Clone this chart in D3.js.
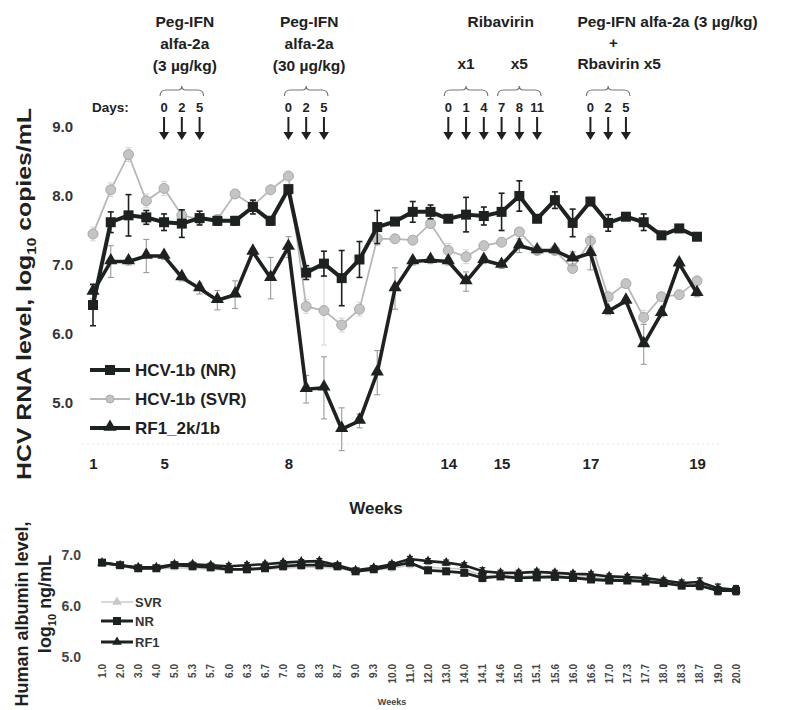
<!DOCTYPE html>
<html>
<head>
<meta charset="utf-8">
<script src="https://cdn.jsdelivr.net/npm/d3@7"></script>
<style>
  html, body { margin: 0; padding: 0; background: #fff; }
  svg { display: block; font-family: "Liberation Sans", Arial, sans-serif; }
</style>
</head>
<body>
<svg id="chart" width="788" height="710"></svg>
<script>
// Sampling weeks (shared by both panels; the RNA panel stops at week 19)
const weeks = ["1.0","2.0","3.0","4.0","5.0","5.3","5.7","6.0","6.3","6.7","7.0","8.0","8.3","8.7","9.0","9.3","10.0","11.0","12.0","13.0","14.0","14.1","14.6","15.0","15.1","15.6","16.0","16.6","17.0","17.3","17.7","18.0","18.3","18.7","19.0","20.0"];
const rnaWeeks = weeks.slice(0, 35);
const rnaTickWeeks = ["1.0","5.0","8.0","14.0","15.0","17.0","19.0"];
const rnaYTicks = [5, 6, 7, 8, 9];

// HCV RNA, log10 copies/mL (mean and error)
const rnaNR  = [6.42,7.62,7.72,7.69,7.62,7.60,7.68,7.64,7.64,7.84,7.64,8.10,6.89,7.02,6.81,7.08,7.55,7.63,7.77,7.77,7.67,7.73,7.71,7.77,8.00,7.67,7.94,7.61,7.92,7.61,7.70,7.62,7.43,7.53,7.41];
const rnaNRerr = [0.30,0.15,0.30,0.10,0.12,0.20,0.10,0.06,0.06,0.10,0.06,0.00,0.10,0.18,0.40,0.26,0.24,0.05,0.15,0.10,0.05,0.25,0.13,0.27,0.22,0.05,0.12,0.20,0.05,0.12,0.05,0.12,0.05,0.05,0.05];
const rnaSVR = [7.45,8.09,8.60,7.93,8.11,7.72,7.66,7.66,8.03,7.86,8.09,8.29,6.40,6.34,6.13,6.36,7.38,7.38,7.36,7.60,7.21,7.12,7.28,7.33,7.48,7.21,7.21,6.95,7.35,6.54,6.73,6.24,6.54,6.57,6.77];
const rnaSVRerr = [0.10,0.10,0.10,0.10,0.10,0.05,0.05,0.05,0.05,0.05,0.05,0.05,0.10,0.50,0.10,0.10,0.10,0.05,0.05,0.05,0.10,0.10,0.05,0.05,0.05,0.05,0.05,0.05,0.10,0.05,0.05,0.10,0.05,0.05,0.05];
const rnaRF1 = [6.61,7.05,7.05,7.13,7.13,6.82,6.66,6.49,6.57,7.19,6.81,7.26,5.20,5.22,4.62,4.74,5.44,6.66,7.05,7.07,7.05,6.76,7.07,7.00,7.28,7.21,7.21,7.09,7.17,6.33,6.48,5.85,6.30,7.02,6.59];
const rnaRF1err = [0.10,0.23,0.05,0.24,0.05,0.05,0.08,0.14,0.20,0.05,0.30,0.15,0.20,0.45,0.31,0.10,0.32,0.30,0.05,0.05,0.05,0.14,0.05,0.05,0.10,0.05,0.05,0.10,0.24,0.05,0.05,0.29,0.05,0.05,0.05];

// Human albumin, log10 ng/mL
const albYTicks = [5, 6, 7];
const albSVR = [6.82,6.78,6.72,6.72,6.75,6.74,6.72,6.70,6.70,6.72,6.74,6.76,6.76,6.74,6.68,6.70,6.74,6.80,6.76,6.74,6.72,6.60,6.60,6.58,6.60,6.60,6.58,6.56,6.54,6.54,6.52,6.48,6.44,6.42,6.34,6.30];
const albNR  = [6.85,6.80,6.74,6.74,6.80,6.78,6.76,6.72,6.72,6.74,6.78,6.80,6.80,6.78,6.68,6.72,6.78,6.85,6.70,6.68,6.65,6.55,6.58,6.55,6.56,6.57,6.55,6.52,6.50,6.50,6.48,6.45,6.40,6.40,6.30,6.30];
const albRF1 = [6.85,6.80,6.76,6.76,6.82,6.82,6.80,6.78,6.80,6.82,6.85,6.87,6.88,6.80,6.70,6.75,6.82,6.92,6.88,6.85,6.80,6.68,6.65,6.65,6.67,6.65,6.63,6.62,6.58,6.57,6.55,6.50,6.45,6.47,6.35,6.32];
const albErr = [0.03,0.04,0.03,0.03,0.04,0.04,0.04,0.05,0.05,0.04,0.04,0.04,0.05,0.04,0.04,0.04,0.05,0.05,0.05,0.05,0.05,0.07,0.05,0.05,0.05,0.05,0.05,0.05,0.05,0.05,0.05,0.05,0.06,0.08,0.08,0.08];

// Treatment schedule: dose weeks for each course
const courses = [
  { lines: ["Peg-IFN", "alfa-2a", "(3 µg/kg)"], groups: [{ label: null, doses: ["5.0","5.3","5.7"], days: ["0","2","5"] }] },
  { lines: ["Peg-IFN", "alfa-2a", "(30 µg/kg)"], groups: [{ label: null, doses: ["8.0","8.3","8.7"], days: ["0","2","5"] }] },
  { lines: ["Ribavirin"], groups: [
      { label: "x1", doses: ["14.0","14.1","14.6"], days: ["0","1","4"] },
      { label: "x5", doses: ["15.0","15.1","15.6"], days: ["7","8","11"] }] },
  { lines: ["Peg-IFN alfa-2a (3 µg/kg)", "+", "Rbavirin x5"], groups: [{ label: null, doses: ["17.0","17.3","17.7"], days: ["0","2","5"] }] }
];

const INK = "#1d221f";
const SVR_FILL = "#c4c4c4";
const SVR_LINE = "#b8b8b8";
const ERR_GREY = "#9a9a9a";

const svg = d3.select("#chart");

// ---------- RNA panel ----------
const xR = d3.scalePoint().domain(rnaWeeks).range([93, 697]);
const yR = d3.scaleLinear().domain([5, 9]).range([403, 127]);

// faint baseline
svg.append("line").attr("x1", 82).attr("x2", 720).attr("y1", 444).attr("y2", 444)
  .attr("stroke", "#e6e6e6").attr("stroke-width", 1.2).attr("stroke-dasharray", "2,3");

const yAxisR = d3.axisLeft(yR).tickValues(rnaYTicks).tickFormat(d3.format(".1f")).tickSize(0).tickPadding(0);
const gyR = svg.append("g").attr("transform", "translate(73,0)").call(yAxisR);
gyR.select(".domain").remove();
gyR.selectAll("text").attr("font-size", 15).attr("font-weight", "bold").attr("fill", "#333").attr("font-family", "Liberation Sans, Arial");

const xAxisR = d3.axisBottom(xR).tickValues(rnaTickWeeks).tickFormat(d => String(parseInt(d))).tickSize(0).tickPadding(0);
const gxR = svg.append("g").attr("transform", "translate(0,458)").call(xAxisR);
gxR.select(".domain").remove();
gxR.selectAll("text").attr("font-size", 15).attr("fill", "#222").attr("font-family", "Liberation Sans Narrow, Liberation Sans, Arial").attr("font-weight", "bold");

svg.append("text").attr("x", 376).attr("y", 514).attr("text-anchor", "middle")
  .attr("font-size", 17).attr("font-weight", "bold").attr("fill", INK).text("Weeks");

// y title with subscript
const yTitle = svg.append("text").attr("transform", "translate(31,294) rotate(-90)")
  .attr("text-anchor", "middle").attr("font-size", 21).attr("font-weight", "bold").attr("fill", INK)
  .attr("textLength", 372).attr("lengthAdjust", "spacingAndGlyphs");
yTitle.append("tspan").text("HCV RNA level, log");
yTitle.append("tspan").attr("font-size", 13).attr("dy", 5).text("10");
yTitle.append("tspan").attr("dy", -5).text(" copies/mL");

function errorBars(g, xs, keys, ys, vals, errs, color, width) {
  const cap = 3;
  vals.forEach((v, i) => {
    const e = errs[i];
    if (!e) return;
    const x = xs(keys[i]);
    const y1 = ys(v + e), y2 = ys(v - e);
    g.append("line").attr("x1", x).attr("x2", x).attr("y1", y1).attr("y2", y2).attr("stroke", color).attr("stroke-width", width);
    g.append("line").attr("x1", x - cap).attr("x2", x + cap).attr("y1", y1).attr("y2", y1).attr("stroke", color).attr("stroke-width", width);
    g.append("line").attr("x1", x - cap).attr("x2", x + cap).attr("y1", y2).attr("y2", y2).attr("stroke", color).attr("stroke-width", width);
  });
}

const lineR = vals => d3.line().x((d, i) => xR(rnaWeeks[i])).y(d => yR(d))(vals);
const plotR = svg.append("g");

// SVR (grey circles)
errorBars(plotR, xR, rnaWeeks, yR, rnaSVR, rnaSVRerr, "#d4d4d4", 1);
plotR.append("path").attr("d", lineR(rnaSVR)).attr("fill", "none").attr("stroke", SVR_LINE).attr("stroke-width", 1.8);
plotR.selectAll(".svr").data(rnaSVR).join("circle")
  .attr("cx", (d, i) => xR(rnaWeeks[i])).attr("cy", d => yR(d)).attr("r", 5)
  .attr("fill", SVR_FILL).attr("stroke", "#a9a9a9").attr("stroke-width", 1);

// RF1 (triangles)
errorBars(plotR, xR, rnaWeeks, yR, rnaRF1, rnaRF1err, ERR_GREY, 1.1);
plotR.append("path").attr("d", lineR(rnaRF1)).attr("fill", "none").attr("stroke", INK).attr("stroke-width", 3.6).attr("stroke-linejoin", "round");
const tri = d3.symbol().type(d3.symbolTriangle).size(75);
plotR.selectAll(".rf1").data(rnaRF1).join("path")
  .attr("d", tri).attr("transform", (d, i) => `translate(${xR(rnaWeeks[i])},${yR(d) - 1})`).attr("fill", INK);

// NR (squares)
errorBars(plotR, xR, rnaWeeks, yR, rnaNR, rnaNRerr, INK, 1.6);
plotR.append("path").attr("d", lineR(rnaNR)).attr("fill", "none").attr("stroke", INK).attr("stroke-width", 4).attr("stroke-linejoin", "round");
plotR.selectAll(".nr").data(rnaNR).join("rect")
  .attr("x", (d, i) => xR(rnaWeeks[i]) - 5).attr("y", d => yR(d) - 5).attr("width", 10).attr("height", 10).attr("fill", INK);

// Legend (RNA panel)
const legR = svg.append("g");
const legItems = [
  { name: "HCV-1b (NR)", y: 370, kind: "nr" },
  { name: "HCV-1b (SVR)", y: 399, kind: "svr" },
  { name: "RF1_2k/1b", y: 428, kind: "rf1" }
];
legItems.forEach(it => {
  if (it.kind === "svr") {
    legR.append("line").attr("x1", 90).attr("x2", 130).attr("y1", it.y).attr("y2", it.y).attr("stroke", SVR_LINE).attr("stroke-width", 1.8);
    legR.append("circle").attr("cx", 110).attr("cy", it.y).attr("r", 4).attr("fill", SVR_FILL).attr("stroke", "#aaa");
  } else {
    legR.append("line").attr("x1", 90).attr("x2", 130).attr("y1", it.y).attr("y2", it.y).attr("stroke", INK).attr("stroke-width", 4);
    if (it.kind === "nr") legR.append("rect").attr("x", 105).attr("y", it.y - 5).attr("width", 10).attr("height", 10).attr("fill", INK);
    else legR.append("path").attr("d", tri).attr("transform", `translate(110,${it.y - 1})`).attr("fill", INK);
  }
  legR.append("text").attr("x", 135).attr("y", it.y + 6).attr("font-size", 17).attr("font-weight", "bold").attr("fill", INK).text(it.name);
});

// ---------- Treatment annotations ----------
const ann = svg.append("g").attr("fill", INK).attr("font-weight", "bold");
const lineYs = [27, 49, 71];
function brace(x0, x1, y) {
  const xm = (x0 + x1) / 2;
  return `M${x0},${y + 6} Q${x0},${y} ${x0 + 6},${y} L${xm - 4},${y} Q${xm},${y} ${xm},${y - 4} Q${xm},${y} ${xm + 4},${y} L${x1 - 6},${y} Q${x1},${y} ${x1},${y + 6}`;
}
courses.forEach((c, ci) => {
  const allDoses = c.groups.flatMap(g => g.doses);
  const cx = (xR(allDoses[0]) + xR(allDoses[allDoses.length - 1])) / 2;
  if (ci === 3) {
    const left = xR(allDoses[0]) - 13;
    ann.append("text").attr("x", left).attr("y", lineYs[0]).attr("font-size", 15.5).text(c.lines[0]);
    ann.append("text").attr("x", left + 36).attr("y", 48).attr("text-anchor", "middle").attr("font-size", 15).text(c.lines[1]);
    ann.append("text").attr("x", left).attr("y", 69).attr("font-size", 15.5).text(c.lines[2]);
  } else if (ci === 2) {
    ann.append("text").attr("x", cx + 8).attr("y", lineYs[0]).attr("text-anchor", "middle").attr("font-size", 15.5).text(c.lines[0]);
  } else {
    c.lines.forEach((t, li) => {
      ann.append("text").attr("x", cx + 3).attr("y", lineYs[li]).attr("text-anchor", "middle").attr("font-size", 15.5).text(t);
    });
  }
  c.groups.forEach(g => {
    const gx0 = xR(g.doses[0]) - 4, gx1 = xR(g.doses[2]) + 4;
    if (g.label) {
      ann.append("text").attr("x", (gx0 + gx1) / 2).attr("y", 69).attr("text-anchor", "middle").attr("font-size", 15.5).text(g.label);
    }
    ann.append("path").attr("d", brace(gx0, gx1, 90)).attr("fill", "none").attr("stroke", "#777").attr("stroke-width", 1.2);
    g.doses.forEach((w, k) => {
      const x = xR(w);
      ann.append("text").attr("x", x).attr("y", 112).attr("text-anchor", "middle").attr("font-size", 13).text(g.days[k]);
      ann.append("line").attr("x1", x).attr("x2", x).attr("y1", 117).attr("y2", 133).attr("stroke", INK).attr("stroke-width", 2);
      ann.append("path").attr("d", `M${x - 5},${132} L${x + 5},${132} L${x},${140} Z`).attr("fill", INK);
    });
  });
});
ann.append("text").attr("x", 92).attr("y", 112).attr("font-size", 13.5).text("Days:");

// ---------- Albumin panel ----------
const xA = d3.scalePoint().domain(weeks).range([102, 736]);
const yA = d3.scaleLinear().domain([5, 7]).range([657, 555]);

const gyA = svg.append("g").attr("transform", "translate(81,0)")
  .call(d3.axisLeft(yA).tickValues(albYTicks).tickFormat(d3.format(".1f")).tickSize(0).tickPadding(0));
gyA.select(".domain").remove();
gyA.selectAll("text").attr("font-size", 14).attr("font-weight", "bold").attr("fill", "#444");

const gxA = svg.append("g").attr("transform", "translate(0,664)")
  .call(d3.axisBottom(xA).tickSize(0).tickPadding(0));
gxA.select(".domain").remove();
gxA.selectAll(".tick text").attr("font-size", 10).attr("font-weight", "bold").attr("fill", "#444")
  .attr("text-anchor", "end").attr("x", 0).attr("y", 0).attr("dy", "0.32em").attr("transform", "rotate(-90)");

svg.append("text").attr("x", 392).attr("y", 705).attr("text-anchor", "middle")
  .attr("font-size", 9).attr("font-weight", "bold").attr("fill", "#444").text("Weeks");

svg.append("text").attr("transform", "translate(28,614) rotate(-90)")
  .attr("text-anchor", "middle").attr("font-size", 18).attr("font-weight", "bold").attr("fill", INK).text("Human albumin level,");
const aTitle2 = svg.append("text").attr("transform", "translate(51,604) rotate(-90)")
  .attr("text-anchor", "middle").attr("font-size", 18).attr("font-weight", "bold").attr("fill", INK);
aTitle2.append("tspan").text("log");
aTitle2.append("tspan").attr("font-size", 11).attr("dy", 5).text("10");
aTitle2.append("tspan").attr("dy", -5).text(" ng/mL");

const lineA = vals => d3.line().x((d, i) => xA(weeks[i])).y(d => yA(d))(vals);
const plotA = svg.append("g");
function albErrors(vals, color) {
  errorBars(plotA, xA, weeks, yA, vals, albErr, color, 1.2);
}
albErrors(albSVR, "#ccc");
plotA.append("path").attr("d", lineA(albSVR)).attr("fill", "none").attr("stroke", "#c8c8c8").attr("stroke-width", 1.5);
albErrors(albRF1, INK);
plotA.append("path").attr("d", lineA(albRF1)).attr("fill", "none").attr("stroke", INK).attr("stroke-width", 2.6);
const triA = d3.symbol().type(d3.symbolTriangle).size(40);
plotA.selectAll(".arf1").data(albRF1).join("path").attr("d", triA)
  .attr("transform", (d, i) => `translate(${xA(weeks[i])},${yA(d)})`).attr("fill", INK);
albErrors(albNR, INK);
plotA.append("path").attr("d", lineA(albNR)).attr("fill", "none").attr("stroke", INK).attr("stroke-width", 2.8);
plotA.selectAll(".anr").data(albNR).join("rect")
  .attr("x", (d, i) => xA(weeks[i]) - 4).attr("y", d => yA(d) - 4).attr("width", 8).attr("height", 8).attr("fill", INK);

// Legend (albumin panel)
const legA = svg.append("g");
[
  { name: "SVR", y: 602, kind: "svr" },
  { name: "NR", y: 621, kind: "nr" },
  { name: "RF1", y: 642, kind: "rf1" }
].forEach(it => {
  if (it.kind === "svr") {
    legA.append("line").attr("x1", 101).attr("x2", 133).attr("y1", it.y).attr("y2", it.y).attr("stroke", "#c8c8c8").attr("stroke-width", 1.4);
    legA.append("path").attr("d", triA).attr("transform", `translate(117,${it.y})`).attr("fill", "#c8c8c8");
  } else {
    legA.append("line").attr("x1", 101).attr("x2", 133).attr("y1", it.y).attr("y2", it.y).attr("stroke", INK).attr("stroke-width", 3);
    if (it.kind === "nr") legA.append("rect").attr("x", 113).attr("y", it.y - 4).attr("width", 8).attr("height", 8).attr("fill", INK);
    else legA.append("path").attr("d", triA).attr("transform", `translate(117,${it.y})`).attr("fill", INK);
  }
  legA.append("text").attr("x", 135).attr("y", it.y + 5).attr("font-size", 13).attr("font-weight", "bold").attr("fill", "#333").text(it.name);
});
</script>
</body>
</html>
